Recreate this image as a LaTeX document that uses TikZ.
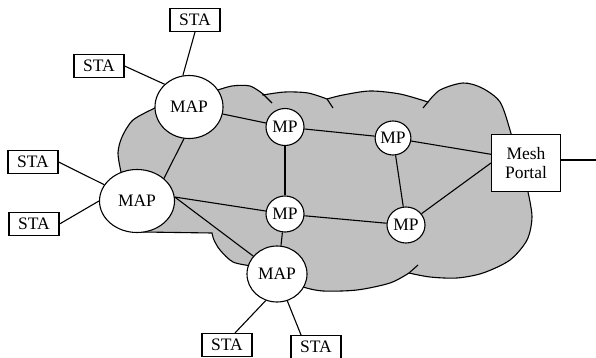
\documentclass[tikz,border=0pt]{standalone}
\usepackage{fontspec}
\setmainfont{Liberation Serif}
\usetikzlibrary{shapes.geometric,calc}
\definecolor{cloudgray}{HTML}{C0C0C0}
\begin{document}
\begin{tikzpicture}[x=1pt,y=-1pt,line width=1.1pt,
  txt/.style={font=\fontsize{17.5}{19}\selectfont},
  stabox/.style={txt,draw,fill=white,minimum width=50pt,minimum height=23pt,inner sep=0pt},
  ell/.style={txt,draw,fill=white,ellipse,inner sep=0pt},
  notch/.style={line width=1.1pt}]
\useasboundingbox (0,0) rectangle (596,358);
% cloud
\draw[fill=cloudgray,line join=miter]
  (189,107) -- plot[smooth] coordinates {(215,91) (232,86) (250,86) (263,94)}
  -- plot[smooth] coordinates {(263,95) (285,92) (308,93) (327,99)}
  -- plot[smooth] coordinates {(327,99) (343,95) (370,91) (400,94) (428,102)}
  -- plot[smooth] coordinates {(428,102) (440,90) (463,83) (482,88) (500,102) (510,130) (515,150)}
  -- (526,163) -- (528,192)
  -- plot[smooth] coordinates {(528,192) (532,217) (527,240) (510,260) (483,273) (457,278) (430,277) (409,273)}
  -- plot[smooth] coordinates {(409,273) (390,283) (357,290) (323,291) (303,287) (285,280)}
  -- (277,274) -- (252,266)
  -- plot[smooth] coordinates {(252,266) (233,262) (220,250) (214,240) (212,233)}
  -- (143,232) -- (137,201) -- (121,172)
  -- plot[smooth] coordinates {(121,172) (118,153) (122,137) (133,120) (155,108)}
  -- cycle;
\draw[notch] (263,94) -- (272,103);
\draw[notch] (327,99) -- (333,108);
\draw[notch] (428,102) -- (423,108);
\draw[notch] (409,273) -- (418,265);
% nodes
\node[stabox] (stat) at (195,20) {STA};
\node[stabox] (stalt) at (99,66) {STA};
\node[stabox] (stal) at (33,162) {STA};
\node[stabox] (stall) at (34,224) {STA};
\node[stabox] (stabl) at (227,345) {STA};
\node[stabox] (stabr) at (316,347) {STA};
\node[ell,minimum width=68pt,minimum height=63pt] (mapt) at (189,107) {MAP};
\node[ell,minimum width=75pt,minimum height=63pt] (mapl) at (137,201) {MAP};
\node[ell,minimum width=60pt,minimum height=56pt] (mapb) at (277,274) {MAP};
\node[ell,minimum width=38pt,minimum height=37pt] (mp1) at (285,127) {MP};
\node[ell,minimum width=35pt,minimum height=34pt] (mp2) at (393,138) {MP};
\node[ell,minimum width=38pt,minimum height=36pt] (mp3) at (285,214) {MP};
\node[ell,minimum width=38pt,minimum height=36pt] (mp4) at (406,225) {MP};
\node[txt,draw,fill=white,minimum width=69pt,minimum height=57pt,inner sep=0pt,align=center] (portal) at (526,163) {Mesh\\Portal};
\coordinate (out) at (596,160);
% connectors
\draw (stat.south) -- (mapt.101);
\draw (stalt.east) -- (mapt.137);
\draw (mapt) -- (mp1);
\draw (mapt.261) -- (mapl.40);
\draw (mp1) -- (mp2);
\draw (mp1) -- (mp3);
\draw (mp2) -- ($(portal.north west)!0.35!(portal.south west)$);
\draw (mp2) -- (mp4);
\draw (mp4) -- (portal.west);
\draw (stal.east) -- (mapl);
\draw (stall.east) -- (mapl.west);
\draw (mapl.6) -- (mp3);
\draw (mapl.6) -- (mapb);
\draw (mp3) -- (mp4);
\draw (mp3.262) -- (mapb.82);
\draw (mapb.247) -- ($(stabl.north)+(8,0)$);
\draw (mapb.291) -- ($(stabr.north)+(-15,0)$);
\draw (portal.east |- out) -- (out);
\end{tikzpicture}
\end{document}
